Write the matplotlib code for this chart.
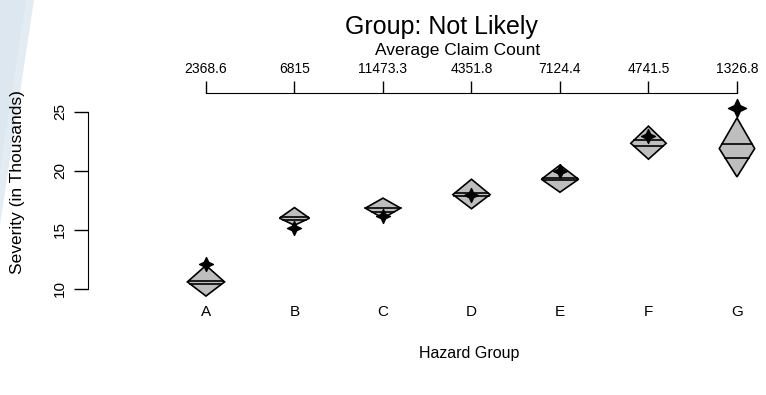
import matplotlib
matplotlib.use("Agg")
import matplotlib.pyplot as plt
import numpy as np
from matplotlib.path import Path
from matplotlib.patches import Polygon

plt.rcParams["font.family"] = ["Liberation Sans", "DejaVu Sans"]

# hazard groups and their average claim counts (top axis)
groups = ["A", "B", "C", "D", "E", "F", "G"]
claim_counts = ["2368.6", "6815", "11473.3", "4351.8", "7124.4", "4741.5", "1326.8"]

# severity summaries, in thousands
upper = [12.0, 16.9, 17.7, 19.3, 20.5, 23.8, 24.5]
centre = [10.6, 16.0, 16.85, 18.0, 19.3, 22.35, 21.9]
lower = [9.4, 15.4, 16.0, 16.8, 18.2, 21.0, 19.5]
line_hi = [10.7, 16.1, 16.85, 18.15, 19.4, 22.6, 22.3]
line_lo = [10.4, 15.85, 16.55, 17.9, 19.2, 22.1, 21.1]
observed = [12.1, 15.15, 16.15, 17.95, 20.0, 23.0, 25.3]
half_width = [0.21, 0.17, 0.2, 0.21, 0.21, 0.2, 0.2]

W, H = 766, 395
fig = plt.figure(figsize=(W / 100, H / 100), dpi=100)

# pale backdrop wedge in the top-left corner
bg = fig.add_axes([0, 0, 1, 1], zorder=-5)
bg.set_xlim(0, W)
bg.set_ylim(H, 0)
bg.axis("off")
bg.add_patch(Polygon([(0, 0), (34, 0), (0, 225)], closed=True,
                     facecolor="#e4ecf3", edgecolor="none"))
bg.add_patch(Polygon([(0, 0), (26, 0), (0, 170)], closed=True,
                     facecolor="#dde7ef", edgecolor="none"))

ax = fig.add_axes([88 / W, 1 - 297 / H, (W - 88) / W, (297 - 93) / H])
ax.patch.set_alpha(0)
x = np.arange(1, len(groups) + 1)
ax.set_xlim(-0.333, 7.328)
ax.set_ylim(9.32, 26.61)

# four-point star for the observed value
t = np.linspace(0, 2 * np.pi, 9)[:-1] + np.pi / 2
r = np.where(np.arange(8) % 2 == 0, 1.0, 0.45)
verts = np.column_stack([r * np.cos(t), r * np.sin(t)])
star = Path(np.vstack([verts, verts[:1]]),
            [Path.MOVETO] + [Path.LINETO] * 7 + [Path.CLOSEPOLY])

for i, xi in enumerate(x):
    hw = half_width[i]
    shape = [(xi, upper[i]), (xi + hw, centre[i]), (xi, lower[i]), (xi - hw, centre[i])]
    ax.add_patch(Polygon(shape, closed=True, facecolor="#bebebe",
                         edgecolor="black", linewidth=1.2, zorder=2))
    for yl in (line_hi[i], line_lo[i]):
        if yl >= centre[i]:
            frac = (upper[i] - yl) / (upper[i] - centre[i])
        else:
            frac = (yl - lower[i]) / (centre[i] - lower[i])
        w = hw * frac
        ax.plot([xi - w, xi + w], [yl, yl], color="black", linewidth=1.2, zorder=3)
    ax.plot(xi, observed[i], marker=star, color="black",
            markersize=13 if i == 6 else 10, linestyle="none", zorder=4)

for side in ("top", "right", "bottom"):
    ax.spines[side].set_visible(False)
ax.spines["left"].set_bounds(10, 25)
ax.set_yticks([10, 15, 20, 25])
ax.tick_params(axis="y", length=10, width=1, labelsize=11, pad=5)
for lab in ax.get_yticklabels():
    lab.set_rotation(90)
    lab.set_va("center")
ax.set_xticks(x)
ax.set_xticklabels(groups)
ax.tick_params(axis="x", length=0, labelsize=11, pad=6)

top = ax.twiny()
top.set_xlim(ax.get_xlim())
for side in ("left", "right", "bottom"):
    top.spines[side].set_visible(False)
top.spines["top"].set_bounds(1, 7)
top.set_xticks(x)
top.set_xticklabels(claim_counts)
top.tick_params(axis="x", length=9, width=1, labelsize=10, pad=3)

fig.text(18 / W, 1 - 182 / H, "Severity (in Thousands)", rotation=90,
         ha="center", va="center", fontsize=12.5)
fig.text(469 / W, 1 - 358 / H, "Hazard Group", ha="center", va="baseline", fontsize=11.5)
fig.text(441 / W, 1 - 34 / H, "Group: Not Likely", ha="center", va="baseline", fontsize=18)
fig.text(458 / W, 1 - 55 / H, "Average Claim Count", ha="center", va="baseline", fontsize=12.5)

fig.savefig("out.png", dpi=100)
